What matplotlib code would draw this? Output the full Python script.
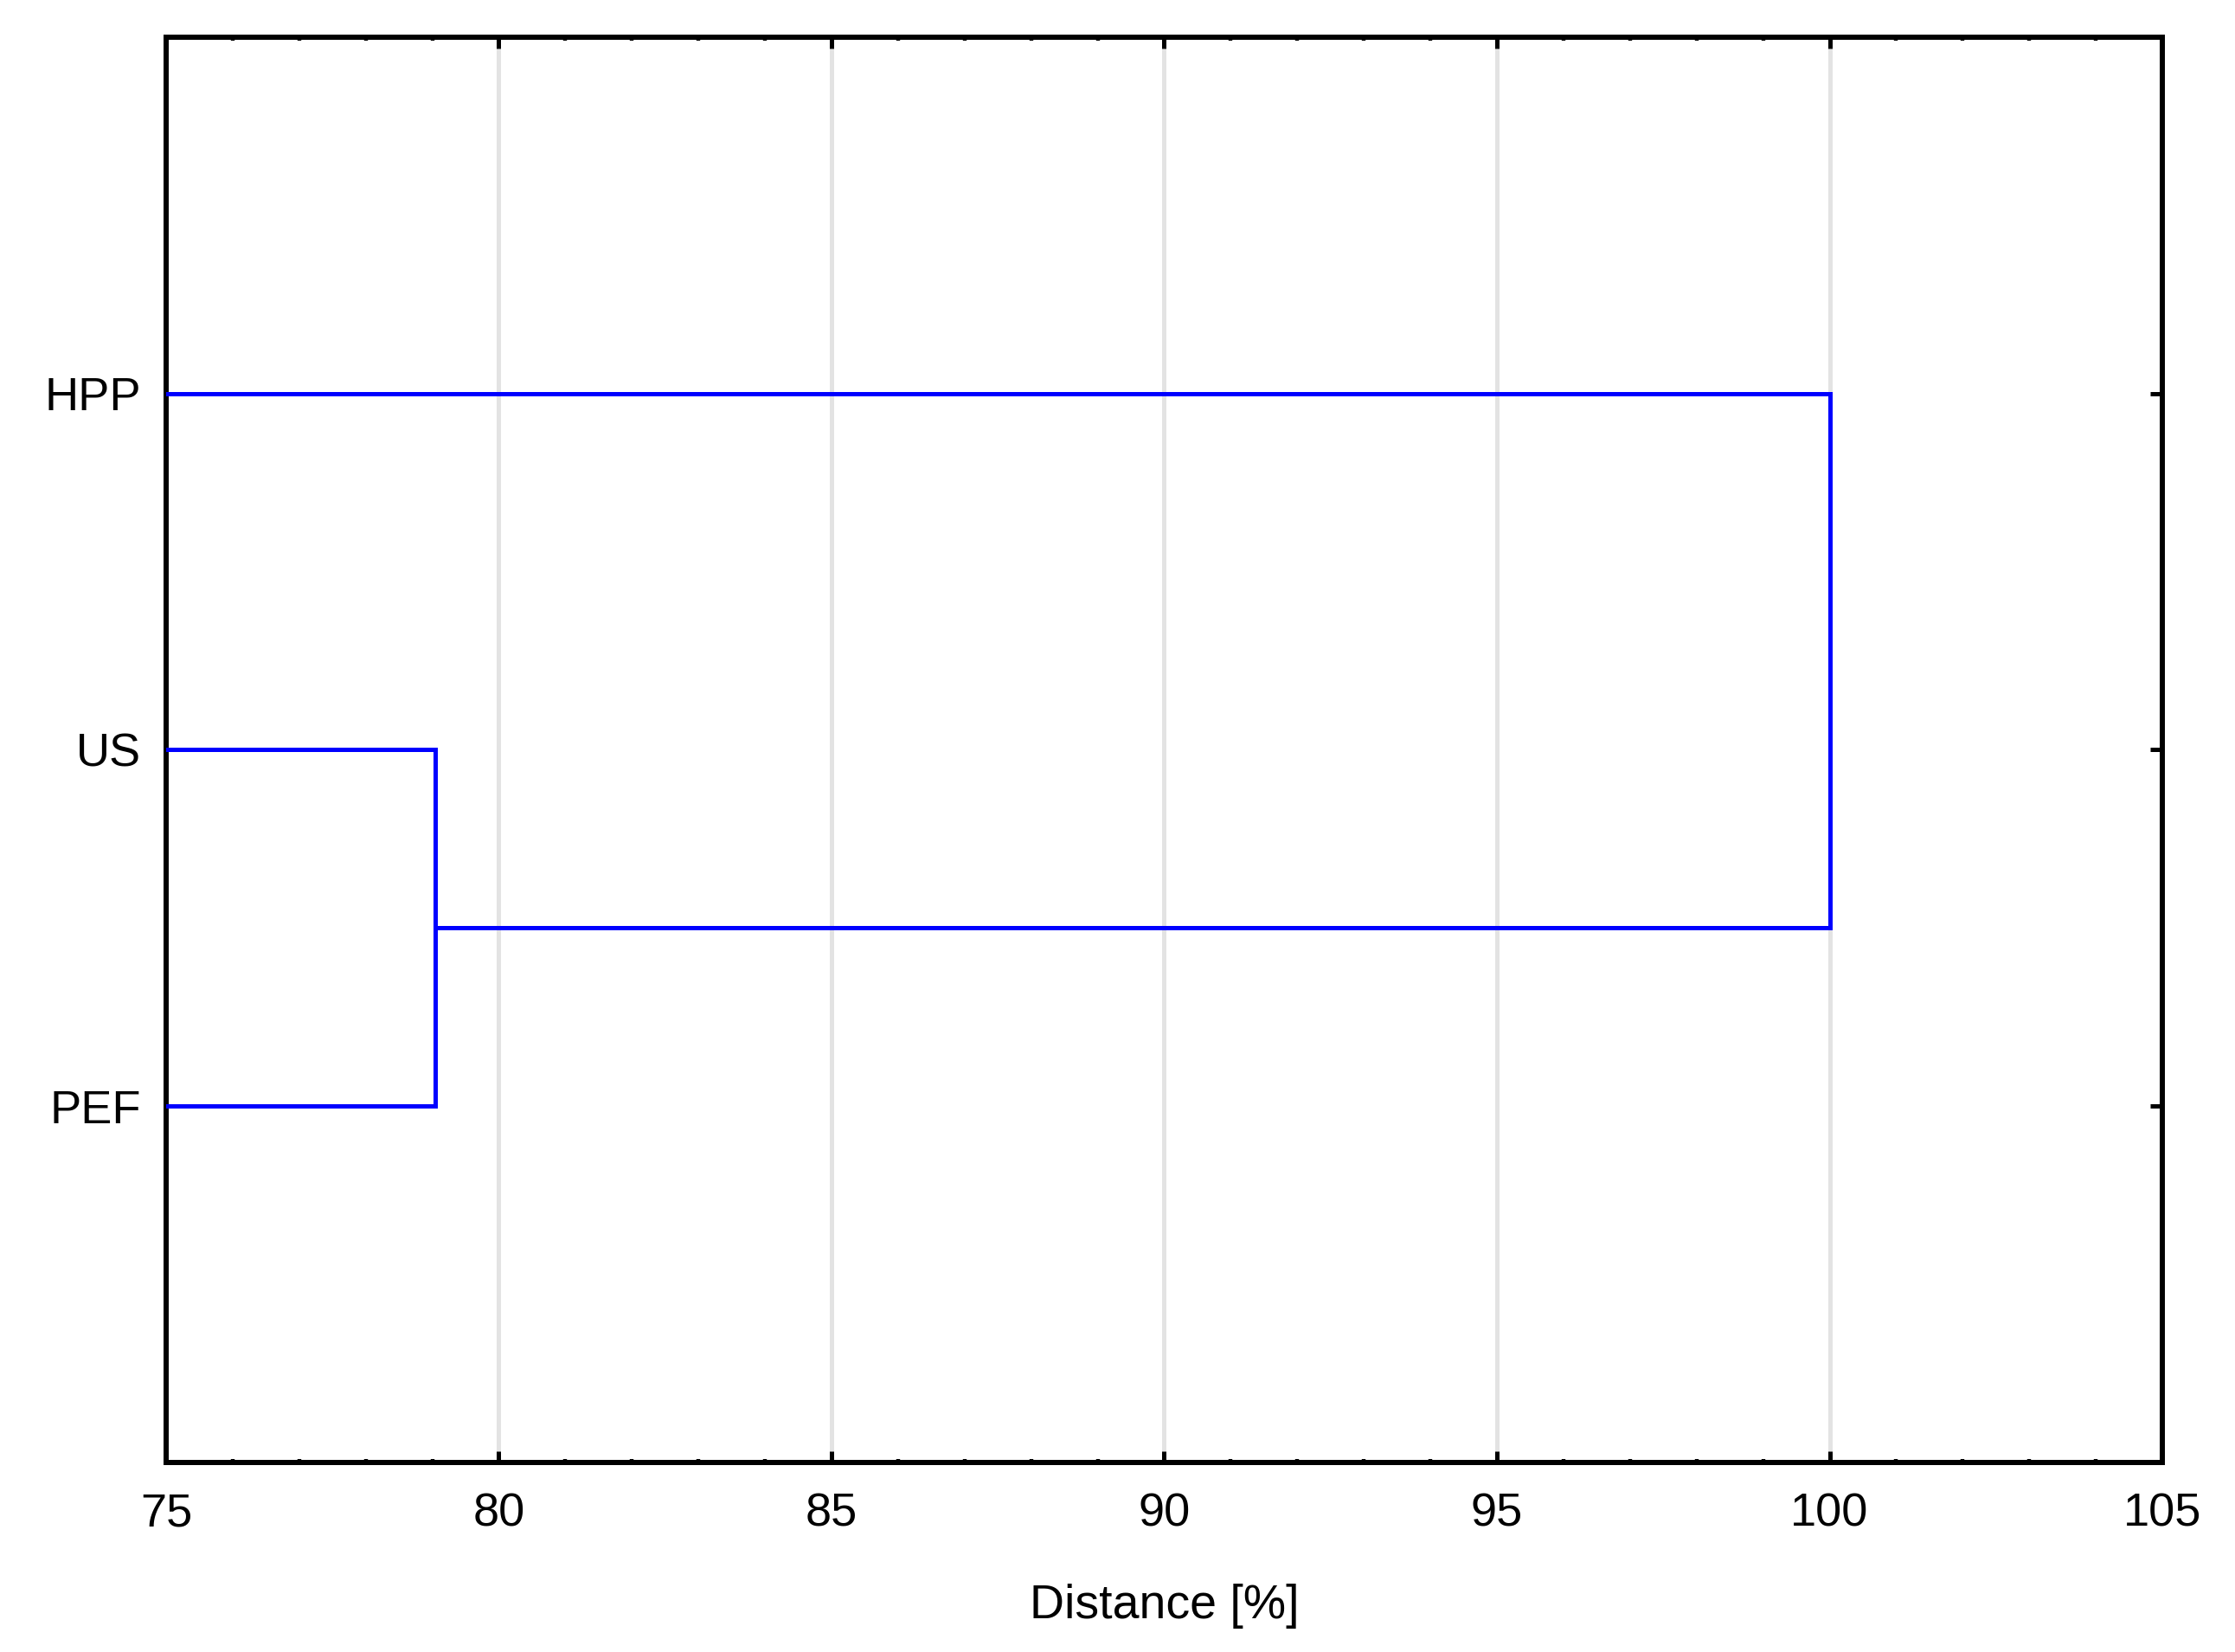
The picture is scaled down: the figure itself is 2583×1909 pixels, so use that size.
import matplotlib
matplotlib.use("Agg")
import matplotlib.pyplot as plt
from matplotlib.ticker import MultipleLocator

# --- data: single-linkage tree, leaves listed bottom to top ---
leaf_labels = ["PEF", "US", "HPP"]
merge_pairs = [(0, 1), (3, 2)]      # node ids: leaves 0..2, new nodes 3, 4
merge_dist = [79.05, 100.0]
x_start = 75

plt.rcParams["font.family"] = ["Liberation Sans", "DejaVu Sans"]

fig = plt.figure(figsize=(25.83, 19.09), dpi=100)
ax = fig.add_axes([0.0743, 0.1147, 0.8932, 0.8628])

BLUE = "#0000ff"
LW = 3.6

# leaf positions then node positions
ypos = {i: i + 1 for i in range(len(leaf_labels))}
xpos = {i: x_start for i in range(len(leaf_labels))}
node = len(leaf_labels)
for (a, b), d in zip(merge_pairs, merge_dist):
    for c in (a, b):
        ax.plot([xpos[c], d], [ypos[c], ypos[c]], color=BLUE, lw=LW,
                solid_capstyle="projecting", zorder=3)
    ax.plot([d, d], [ypos[a], ypos[b]], color=BLUE, lw=LW,
            solid_capstyle="projecting", zorder=3)
    ypos[node] = (ypos[a] + ypos[b]) / 2
    xpos[node] = d
    node += 1

ax.set_xlim(75, 105)
ax.set_ylim(0, len(leaf_labels) + 1)
ax.xaxis.set_major_locator(MultipleLocator(5))
ax.xaxis.set_minor_locator(MultipleLocator(1))
ax.set_yticks(range(1, len(leaf_labels) + 1))
ax.set_yticklabels(leaf_labels)

ax.grid(axis="x", which="major", color="#e3e3e3", lw=3.6, zorder=0)
ax.set_axisbelow(True)

for s in ax.spines.values():
    s.set_linewidth(4.3)

ax.tick_params(axis="x", which="major", direction="in", top=True, bottom=True,
               length=9.5, width=3.6, pad=25, labelsize=39)
ax.tick_params(axis="x", which="minor", direction="in", top=True, bottom=True,
               length=2.8, width=3.2)
ax.tick_params(axis="y", which="major", direction="in", left=True, right=True,
               length=10, width=3.6, pad=21, labelsize=39)

ax.set_xlabel("Distance [%]", fontsize=40, labelpad=40)

fig.savefig("out.png", dpi=100)
